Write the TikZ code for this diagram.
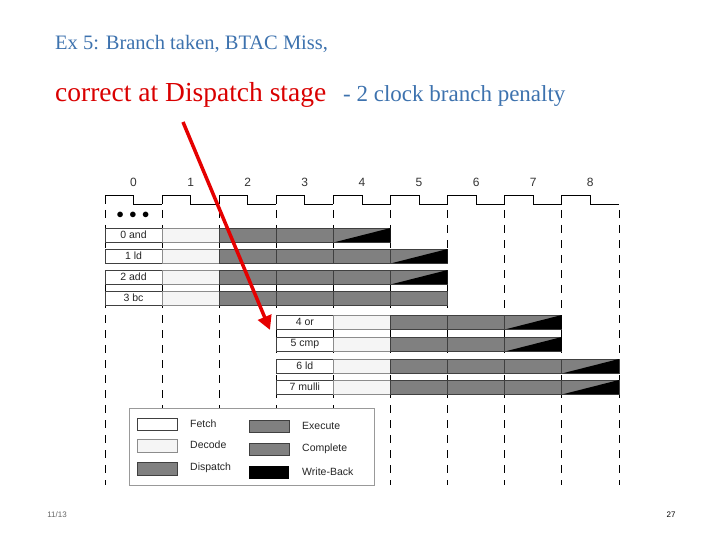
\documentclass[tikz,border=0pt]{standalone}
\usepackage{fontspec}
\setmainfont{Liberation Serif}
\newfontfamily\arialf{Liberation Sans}
\usetikzlibrary{arrows.meta}
\definecolor{decc}{gray}{0.96}
\definecolor{exc}{gray}{0.5}
\definecolor{titleblue}{HTML}{3D72AE}
\tikzset{x=1pt,y=-1pt,
 stagebox/.style={draw=black!75,line width=0.8pt},
 lab/.style={font=\arialf\fontsize{10.5}{12}\selectfont,inner sep=0pt,text=black!85},
 vdash/.style={dashed,dash pattern=on 8pt off 7pt,line width=0.7pt},
}
\begin{document}
\begin{tikzpicture}
\useasboundingbox (0,0) rectangle (720,540);
% titles
\node[anchor=base west,inner sep=0pt,font=\fontsize{20.5}{24}\selectfont,text=titleblue] (t1) at (55,50) {Ex 5: Branch taken, BTAC Miss,};
\node[anchor=base west,inner sep=0pt,font=\fontsize{27.5}{30}\selectfont,text=red!85!black] (t2) at (55,102) {correct at Dispatch stage};
\node[anchor=base west,inner sep=0pt,font=\fontsize{23}{26}\selectfont,text=titleblue] (t3) at (343,102) {- 2 clock branch penalty};
\node[font=\arialf\fontsize{8}{10}\selectfont,text=black!60] (d) at (57,515) {11/13};
\node[font=\arialf\fontsize{8}{10}\selectfont] (p) at (671,515) {27};
% dashed verticals
\foreach \k in {0,...,9} \draw[vdash] ({105+57.1*\k},210) -- ({105+57.1*\k},485);
% clock
\foreach \k in {0,...,8} {
 \node[font=\arialf\fontsize{12}{14}\selectfont,text=black!80] (c\k) at ({133.5+57.1*\k},182) {\k};
 \draw[line width=0.8pt] ({105+57.1*\k},204) -- ({105+57.1*\k},195) -- ({133.5+57.1*\k},195) -- ({133.5+57.1*\k},204) -- ({162.1+57.1*\k},204);
}
\node[font=\bfseries\fontsize{14}{14}\selectfont] (dots) at (133,215) {$\bullet\,\bullet\,\bullet$};
% rows
\foreach \y/\c/\t/\g/\w in {235/0/0 and/2/1, 256/0/1 ld/3/1, 277/0/2 add/3/1, 298/0/3 bc/4/0, 322/3/4 or/2/1, 344/3/5 cmp/2/1, 366/3/6 ld/3/1, 387/3/7 mulli/3/1} {
 \pgfmathsetmacro{\xa}{105+57.1*\c}
 \pgfmathsetmacro{\xb}{\xa+57.1}
 \pgfmathsetmacro{\xc}{\xb+57.1}
 \pgfmathsetmacro{\xd}{\xc+57.1*\g}
 \pgfmathsetmacro{\xe}{\xd+57.1}
 \draw[stagebox,fill=white] (\xa,\y-7) rectangle (\xb,\y+7);
 \node[lab] at ({(\xa+\xb)/2},\y) {\t};
 \draw[stagebox,draw=black!45,fill=decc] (\xb,\y-7) rectangle (\xc,\y+7);
 \foreach \j in {1,...,\g} \draw[stagebox,fill=exc] ({\xc+57.1*(\j-1)},\y-7) rectangle ({\xc+57.1*\j},\y+7);
 \ifnum\w=1
  \draw[stagebox,fill=exc] (\xd,\y-7) rectangle (\xe,\y+7);
  \fill[black] (\xd+2,\y+7) -- (\xe,\y-7) -- (\xe,\y+7) -- cycle;
 \fi
}
% legend
\draw[black!40,fill=white,line width=0.8pt] (129,408) rectangle (374,485);
\draw[stagebox,fill=white] (137,418) rectangle (177,430);
\draw[stagebox,draw=black!45,fill=decc] (137,439) rectangle (177,452);
\draw[stagebox,fill=exc] (137,462) rectangle (177,475);
\draw[stagebox,fill=exc] (249,420) rectangle (289,432);
\draw[stagebox,fill=exc] (249,443) rectangle (289,455);
\fill[black] (249,466) rectangle (289,479);
\node[lab,anchor=west] (lf) at (190,424) {Fetch};
\node[lab,anchor=west] (ld) at (190,445) {Decode};
\node[lab,anchor=west] (lp) at (190,468) {Dispatch};
\node[lab,anchor=west] (le) at (302,426) {Execute};
\node[lab,anchor=west] (lc) at (302,449) {Complete};
\node[lab,anchor=west] (lw) at (302,472) {Write-Back};
% red arrow
\coordinate (as) at (183,122);
\coordinate (ae) at (270,330);
\draw[red!90!black,line width=3.5pt,-{Triangle[length=14pt,width=14pt]}] (as) -- (ae);
\end{tikzpicture}
\end{document}
